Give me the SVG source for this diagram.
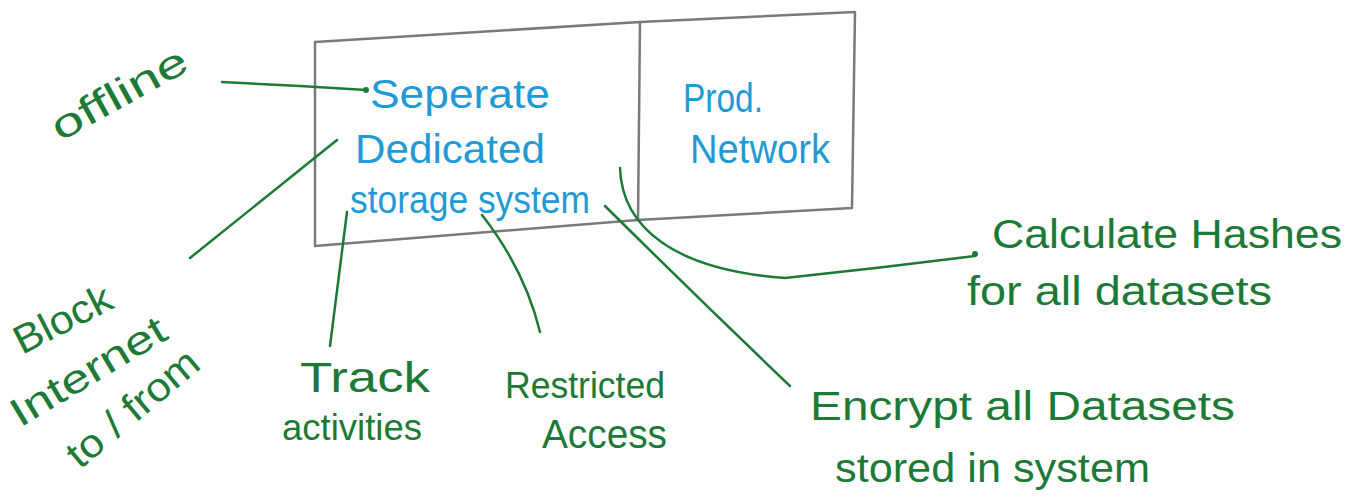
<svg xmlns="http://www.w3.org/2000/svg" width="1362" height="502" viewBox="0 0 1362 502">
  <style>
    .box { fill: none; stroke: #7a7a7a; stroke-width: 2.5; stroke-linejoin: round; }
    .blue { font-family: "Liberation Sans", Arial, sans-serif; font-size: 40px; fill: #1f9ad6; }
    .green { font-family: "Liberation Sans", Arial, sans-serif; font-size: 40px; fill: #1c7a36; }
    .link { fill: none; stroke: #1c7a36; stroke-width: 2.5; stroke-linecap: round; }
    .dot { fill: #1c7a36; }
  </style>
  <rect width="1362" height="502" fill="#ffffff"/>

  <!-- storage system / production network block -->
  <g id="storage-system">
    <path class="box" d="M315,42 L640,22 L638,220 L315,246 Z"/>
    <text class="blue" x="370" y="108" textLength="180" lengthAdjust="spacingAndGlyphs">Seperate</text>
    <text class="blue" x="355" y="163" textLength="190" lengthAdjust="spacingAndGlyphs">Dedicated</text>
    <text class="blue" x="350" y="213" style="font-size:38px" textLength="240" lengthAdjust="spacingAndGlyphs">storage system</text>
  </g>
  <g id="prod-network">
    <path class="box" d="M640,22 L855,12 L852,208 L638,220"/>
    <text class="blue" x="683" y="112" textLength="80" lengthAdjust="spacingAndGlyphs">Prod.</text>
    <text class="blue" x="690" y="163" textLength="140" lengthAdjust="spacingAndGlyphs">Network</text>
  </g>

  <!-- connectors -->
  <g id="connectors">
    <path class="link" d="M222,82 L300,86 L366,90"/>
    <circle class="dot" cx="366" cy="90" r="3"/>
    <path class="link" d="M190,258 L337,140"/>
    <path class="link" d="M347,212 L330,346"/>
    <path class="link" d="M482,215 Q525,270 540,332"/>
    <path class="link" d="M605,206 Q700,300 790,386"/>
    <path class="link" d="M620,168 C622,228 675,270 785,278 Q880,268 975,256"/>
    <circle class="dot" cx="975" cy="254" r="3"/>
  </g>

  <!-- annotations -->
  <g id="offline">
    <text class="green" transform="translate(60,142) rotate(-29)" textLength="150" lengthAdjust="spacingAndGlyphs">offline</text>
  </g>
  <g id="block-internet">
    <text class="green" transform="translate(22,355) rotate(-27)" textLength="105" lengthAdjust="spacingAndGlyphs">Block</text>
    <text class="green" transform="translate(20,428) rotate(-31)" textLength="175" lengthAdjust="spacingAndGlyphs">Internet</text>
    <text class="green" transform="translate(80,470) rotate(-40)" textLength="160" lengthAdjust="spacingAndGlyphs">to / from</text>
  </g>
  <g id="track-activities">
    <text class="green" x="300" y="392" style="font-size:42px" textLength="130" lengthAdjust="spacingAndGlyphs">Track</text>
    <text class="green" x="282" y="440" style="font-size:36px" textLength="140" lengthAdjust="spacingAndGlyphs">activities</text>
  </g>
  <g id="restricted-access">
    <text class="green" x="505" y="398" style="font-size:37px" textLength="160" lengthAdjust="spacingAndGlyphs">Restricted</text>
    <text class="green" x="542" y="448" textLength="125" lengthAdjust="spacingAndGlyphs">Access</text>
  </g>
  <g id="encrypt-datasets">
    <text class="green" x="810" y="420" textLength="425" lengthAdjust="spacingAndGlyphs">Encrypt all Datasets</text>
    <text class="green" x="835" y="482" textLength="315" lengthAdjust="spacingAndGlyphs">stored in system</text>
  </g>
  <g id="calculate-hashes">
    <text class="green" x="992" y="248" textLength="350" lengthAdjust="spacingAndGlyphs">Calculate Hashes</text>
    <text class="green" x="967" y="305" textLength="305" lengthAdjust="spacingAndGlyphs">for all datasets</text>
  </g>
</svg>
